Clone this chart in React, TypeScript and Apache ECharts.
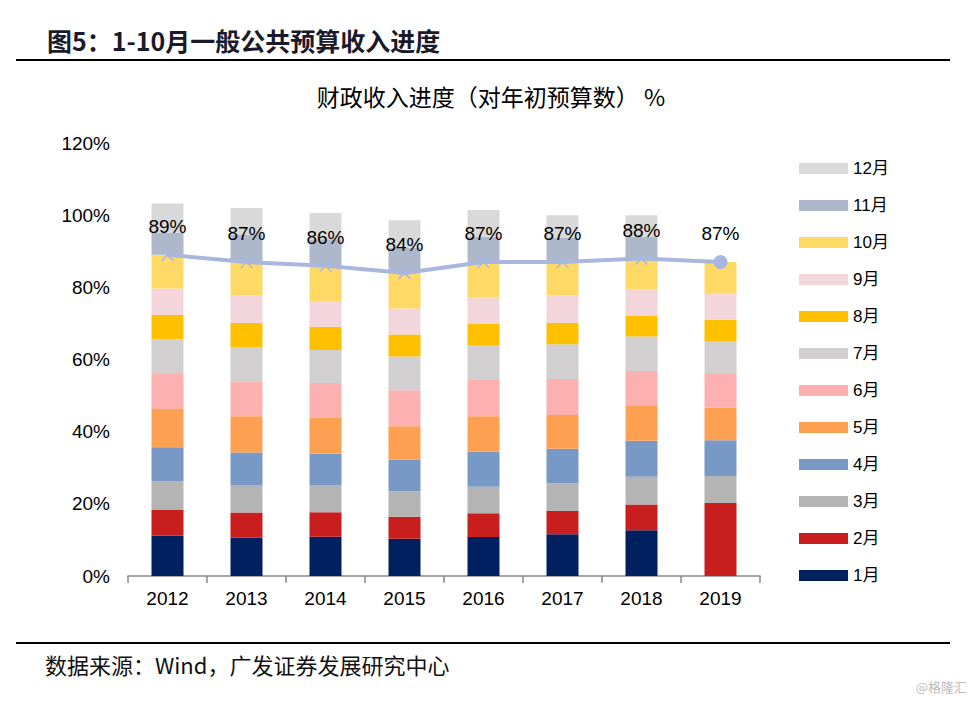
import React, { useEffect, useRef } from "react";
import * as echarts from "echarts";

const years = ["2012", "2013", "2014", "2015", "2016", "2017", "2018", "2019"];
const monthNames = ["1月", "2月", "3月", "4月", "5月", "6月", "7月", "8月", "9月", "10月", "11月", "12月"];

// monthly share of the initial budget (%), per year
const m1 = [11.2, 10.6, 10.9, 10.3, 10.8, 11.6, 12.7, 0];
const m2 = [7.1, 7.0, 6.8, 6.1, 6.6, 6.4, 7.1, 20.2];
const m3 = [7.9, 7.6, 7.4, 7.1, 7.3, 7.7, 7.7, 7.5];
const m4 = [9.5, 9.0, 8.8, 8.7, 9.7, 9.6, 10.0, 9.9];
const m5 = [10.6, 10.1, 9.9, 9.3, 9.9, 9.3, 9.6, 9.0];
const m6 = [9.7, 9.7, 9.7, 10.0, 10.0, 10.0, 9.7, 9.4];
const m7 = [9.6, 9.4, 9.1, 9.3, 9.5, 9.6, 9.6, 9.1];
const m8 = [6.7, 6.7, 6.5, 6.1, 6.2, 5.9, 5.8, 5.9];
const m9 = [7.4, 7.7, 7.1, 7.2, 7.2, 7.7, 7.2, 7.2];
const m10 = [9.3, 9.2, 9.8, 9.9, 9.8, 9.2, 8.6, 8.8];
const m11 = [6.1, 7.5, 7.3, 7.0, 7.0, 6.7, 6.0, null];
const m12 = [8.1, 7.5, 7.3, 7.6, 7.4, 6.3, 6.0, null];

// cumulative progress through October (%)
const progress = [89, 87, 86, 84, 87, 87, 88, 87];

const yTicks = { min: 0, max: 120, interval: 20 };

const colors = [
  "#002060", "#C81E1E", "#B4B4B4", "#7899C6", "#FDA052", "#FDB0B0",
  "#D1CFCF", "#FFC000", "#F2D6DC", "#FFD966", "#ADB9CB", "#D9D9D9",
];
const lineColor = "#A9B6DE";

const FONT = 'Arial, "Liberation Sans", "Noto Sans CJK SC", sans-serif';
const CJK = '"Noto Sans CJK SC", Arial, sans-serif';

export default function App() {
  const ref = useRef<HTMLDivElement>(null);

  useEffect(() => {
    if (!ref.current) return;
    const chart = echarts.init(ref.current, null, { renderer: "svg" });
    const monthly = [m1, m2, m3, m4, m5, m6, m7, m8, m9, m10, m11, m12];

    const barSeries = monthly.map((arr, i) => ({
      name: monthNames[i],
      type: "bar",
      stack: "total",
      barWidth: 32,
      itemStyle: { color: colors[i] },
      data: arr.map((v) => (v === null ? "-" : v)),
      z: 2,
    }));

    const crossPath = "path://M0,0L10,10M10,0L0,10";

    const lineSeries = {
      name: "进度",
      type: "line",
      z: 10,
      symbol: crossPath,
      symbolSize: 12,
      lineStyle: { color: lineColor, width: 4 },
      itemStyle: { color: lineColor, borderColor: lineColor, borderWidth: 1.5 },
      label: {
        show: true,
        position: "top",
        distance: 12,
        formatter: "{c}%",
        fontSize: 19,
        fontFamily: FONT,
        color: "#000",
      },
      data: progress.map((v, i) =>
        i === progress.length - 1
          ? { value: v, symbol: "circle", symbolSize: 14, itemStyle: { color: lineColor, borderWidth: 0 } }
          : v
      ),
    };

    chart.setOption({
      animation: false,
      backgroundColor: "#fff",
      grid: { left: 128, right: 213, top: 143, bottom: 125, containLabel: false },
      legend: {
        orient: "vertical",
        left: 799,
        top: 160,
        padding: 0,
        itemWidth: 49,
        itemHeight: 11,
        itemGap: 20,
        icon: "rect",
        data: monthNames.slice().reverse(),
        textStyle: { fontSize: 17, lineHeight: 17, color: "#000", fontFamily: FONT },
      },
      xAxis: {
        type: "category",
        data: years,
        axisLine: { lineStyle: { color: "#898989", width: 1.5 } },
        axisTick: { show: true, length: 7, lineStyle: { color: "#898989", width: 1.5 } },
        axisLabel: { fontSize: 19, color: "#000", margin: 13, fontFamily: FONT },
      },
      yAxis: {
        type: "value",
        min: yTicks.min,
        max: yTicks.max,
        interval: yTicks.interval,
        axisLine: { show: false },
        axisTick: { show: false },
        splitLine: { show: false },
        axisLabel: { formatter: "{value}%", fontSize: 19, color: "#000", margin: 18, fontFamily: FONT },
      },
      graphic: [
        {
          type: "text",
          x: 47,
          y: 40,
          style: {
            text: "图5：1-10月一般公共预算收入进度",
            font: `bold 25px ${CJK}`,
            fill: "#1a1a2a",
            textVerticalAlign: "middle",
          },
        },
        { type: "line", shape: { x1: 16, y1: 60, x2: 950, y2: 60 }, style: { stroke: "#000", lineWidth: 2 } },
        {
          type: "text",
          x: 491,
          y: 96,
          style: {
            text: "财政收入进度（对年初预算数） %",
            font: `23px ${CJK}`,
            fill: "#000",
            textAlign: "center",
            textVerticalAlign: "middle",
          },
        },
        { type: "line", shape: { x1: 16, y1: 643, x2: 950, y2: 643 }, style: { stroke: "#000", lineWidth: 2 } },
        {
          type: "text",
          x: 45,
          y: 664,
          style: {
            text: "数据来源：Wind，广发证券发展研究中心",
            font: `22px ${CJK}`,
            fill: "#111",
            textVerticalAlign: "middle",
          },
        },
        {
          type: "text",
          x: 967,
          y: 686,
          style: {
            text: "@格隆汇",
            font: `13px ${CJK}`,
            fill: "#bbb",
            textAlign: "right",
            textVerticalAlign: "middle",
          },
        },
      ],
      series: [...barSeries, lineSeries],
    });

    return () => chart.dispose();
  }, []);

  return (
    <div
      ref={ref}
      style={{ position: "fixed", left: 0, top: 0, width: 973, height: 701, background: "#fff" }}
    />
  );
}
